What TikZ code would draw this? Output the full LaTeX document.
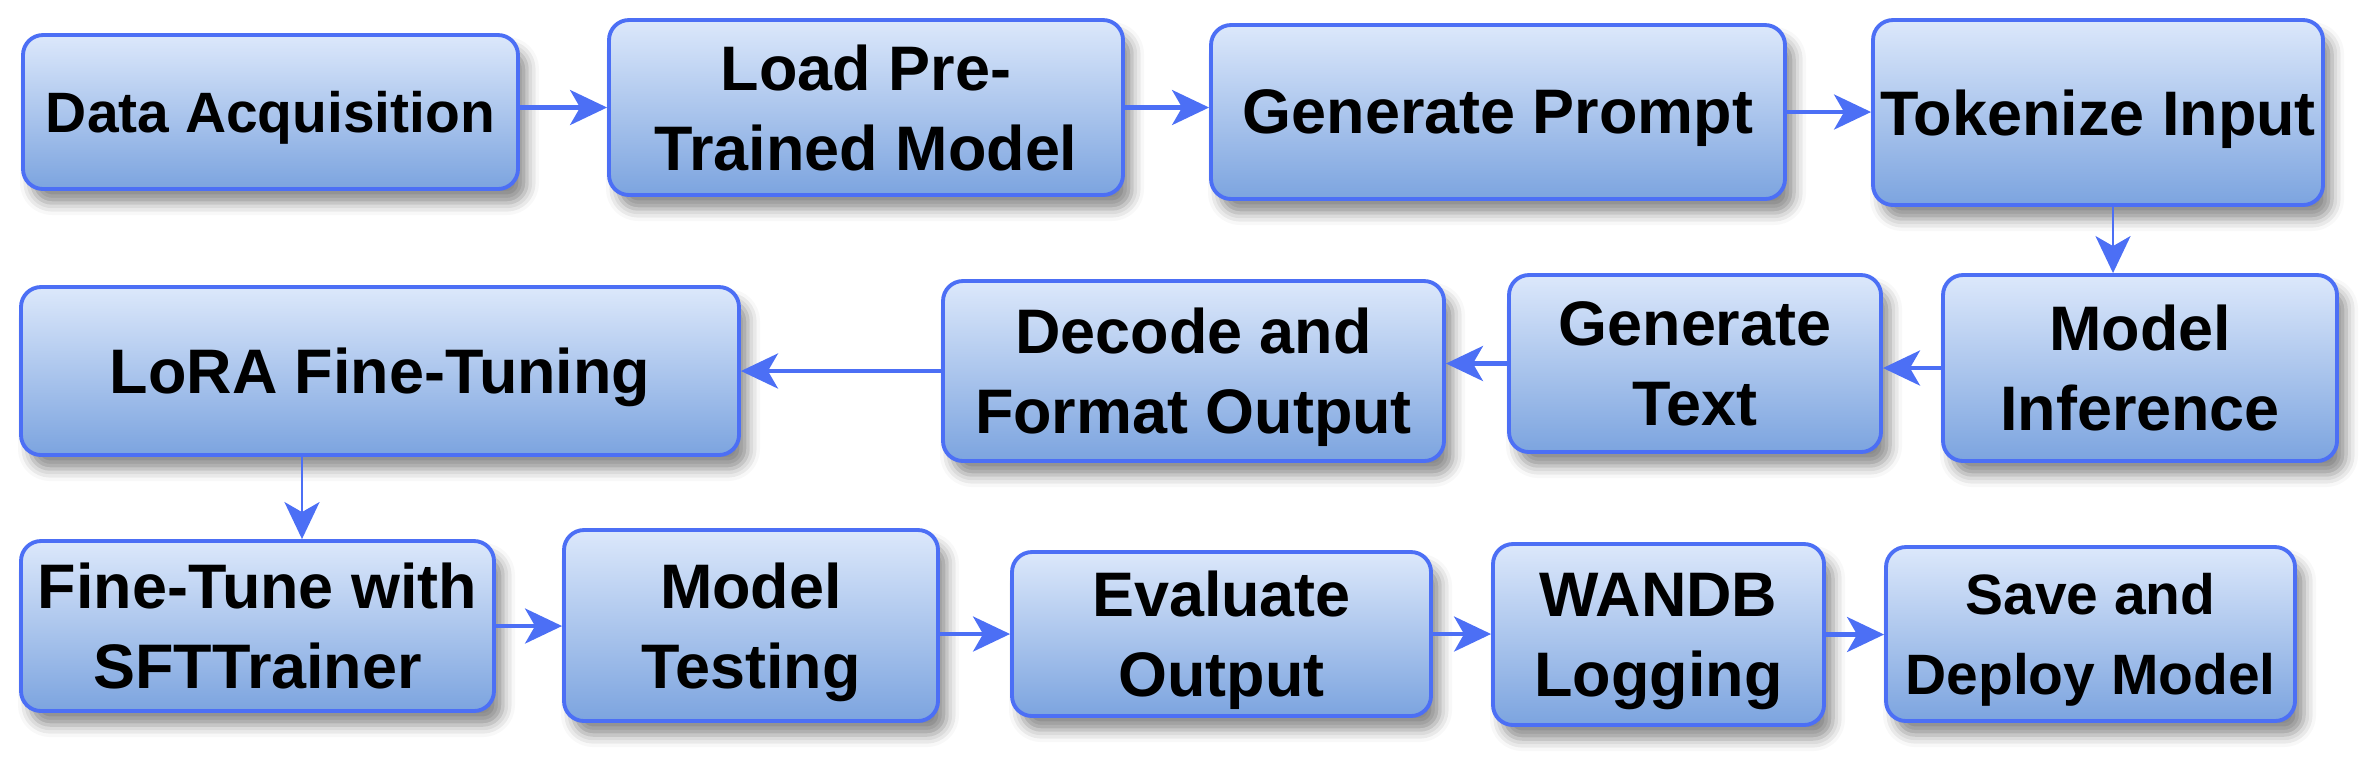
\documentclass[tikz,border=0pt]{standalone}
\usepackage{fontspec}
\setmainfont{Liberation Sans}
\usetikzlibrary{arrows.meta,shadows.blur}
\definecolor{boxline}{HTML}{4C6FF5}
\definecolor{boxtop}{HTML}{DCE8FB}
\definecolor{boxbot}{HTML}{7CA4DF}

\begin{document}
\begin{tikzpicture}[x=0.1mm, y=-0.1mm,
    stage/.style={draw=boxline, line width=1.1pt, rounded corners=2mm,
      top color=boxtop, bottom color=boxbot, align=center, inner sep=0pt,
      text depth=0pt, font=\fontsize{17.9}{22.8}\selectfont\bfseries,
      blur shadow={shadow xshift=0.9mm, shadow yshift=-1.4mm,
        shadow blur radius=1.2mm, shadow opacity=45}},
    small/.style={font=\fontsize{16.2}{22.8}\selectfont\bfseries},
    flow/.style={draw=boxline, line width=1.2pt,
      -{Stealth[length=3.7mm, width=3.5mm, inset=1mm]}},
    thin/.style={line width=0.8pt}]
    \useasboundingbox (0,0) rectangle (2368,760);

    % first row
    \node[stage, small, minimum width=49.5mm, minimum height=15.4mm] (acq) at (270.5,112) {Data Acquisition};
    \node[stage, minimum width=51.4mm, minimum height=17.5mm] (load) at (866,107.5) {Load Pre-\\Trained Model};
    \node[stage, minimum width=57.4mm, minimum height=17.4mm] (prompt) at (1498,112) {Generate Prompt};
    \node[stage, minimum width=45.0mm, minimum height=18.5mm] (token) at (2098,112.5) {Tokenize Input};

    % second row
    \node[stage, minimum width=39.4mm, minimum height=18.6mm] (infer) at (2140,368) {Model\\Inference};
    \node[stage, minimum width=37.2mm, minimum height=17.7mm] (gentext) at (1695,363.5) {Generate\\Text};
    \node[stage, minimum width=50.1mm, minimum height=18.0mm] (decode) at (1193.5,371) {Decode and\\Format Output};
    \node[stage, minimum width=71.8mm, minimum height=16.8mm] (lora) at (380,371) {LoRA Fine-Tuning};

    % third row
    \node[stage, minimum width=47.3mm, minimum height=17.0mm] (sft) at (257.5,626) {Fine-Tune with\\SFTTrainer};
    \node[stage, minimum width=37.4mm, minimum height=19.1mm] (test) at (751,625.5) {Model\\Testing};
    \node[stage, minimum width=41.9mm, minimum height=16.4mm] (eval) at (1221.5,634) {Evaluate\\Output};
    \node[stage, minimum width=33.1mm, minimum height=18.1mm] (wandb) at (1658.5,634.5) {WANDB\\Logging};
    \node[stage, small, minimum width=40.9mm, minimum height=17.4mm] (deploy) at (2090.5,634) {Save and\\Deploy Model};

    \draw[flow] (acq.east |- load.west) -- (load.west);
    \draw[flow] (load.east) -- (load.east -| prompt.west);
    \draw[flow] (prompt.east) -- (prompt.east -| token.west);
    \draw[flow, thin] ([xshift=1.5mm]token.south) -- ([xshift=1.5mm]token.south |- infer.north);
    \draw[flow] (infer.west) -- (infer.west -| gentext.east);
    \draw[flow] (gentext.west) -- (gentext.west -| decode.east);
    \draw[flow] (decode.west) -- (decode.west -| lora.east);
    \draw[flow, thin] ([xshift=-7.8mm]lora.south) -- ([xshift=-7.8mm]lora.south |- sft.north);
    \draw[flow] (sft.east) -- (sft.east -| test.west);
    \draw[flow] (test.east |- eval.west) -- (eval.west);
    \draw[flow] (eval.east) -- (eval.east -| wandb.west);
    \draw[flow] (wandb.east) -- (wandb.east -| deploy.west);
  \end{tikzpicture}
\end{document}
